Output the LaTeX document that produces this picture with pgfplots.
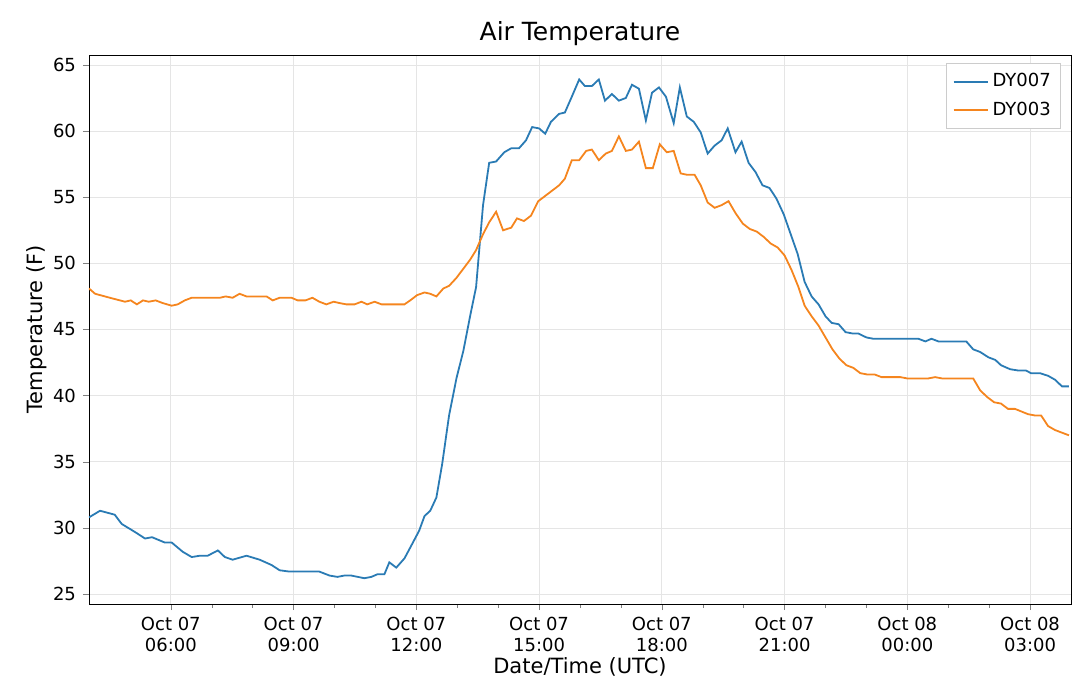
\documentclass[border=0pt]{standalone}
\usepackage{pgfplots}
\pgfplotsset{compat=1.18}
\usepackage{fontspec}
\setmainfont{DejaVu Sans}
\definecolor{c1}{HTML}{2A7BB4}
\definecolor{c2}{HTML}{F5851E}
\begin{document}
\begin{tikzpicture}
\path[use as bounding box] (-44.5pt,-47pt) rectangle (495.5pt,302pt);
\begin{axis}[
  scale only axis, width=491pt, height=274.5pt,
  xmin=4, xmax=28, ymin=24.25, ymax=65.75,
  xtick={6,9,12,15,18,21,24,27},
  xticklabels={Oct 07\\06:00,Oct 07\\09:00,Oct 07\\12:00,Oct 07\\15:00,Oct 07\\18:00,Oct 07\\21:00,Oct 08\\00:00,Oct 08\\03:00},
  xticklabel style={align=center},
  minor x tick num=2,
  ytick={25,30,...,65},
  tick label style={font=\fontsize{9}{10.5}\selectfont},
  /pgf/number format/assume math mode=true,
  grid=major, major grid style={gray!20, line width=0.4pt},
  tick align=outside, tick pos=left,
  major tick length=3pt, minor tick length=1.8pt,
  xlabel={Date/Time (UTC)}, ylabel={Temperature (F)},
  label style={font=\fontsize{10.5}{12}\selectfont},
  xlabel style={yshift=4pt}, ylabel style={yshift=-4pt},
  title={Air Temperature}, title style={font=\fontsize{12.5}{14}\selectfont, yshift=-5pt},
  legend style={at={(0.99,0.985)}, anchor=north east, font=\fontsize{9}{10.5}\selectfont, draw=gray!40, row sep=2pt, inner sep=3pt},
  legend cell align=left,
  legend image post style={line width=0.9pt},
]
\addplot[c1, line width=0.9pt] coordinates {
(4.00,30.8)(4.27,31.3)(4.63,31.0)(4.80,30.3)(5.12,29.7)(5.37,29.2)(5.54,29.3)(5.85,28.9)(6.02,28.9)(6.29,28.2)(6.51,27.8)(6.71,27.9)(6.90,27.9)(7.15,28.3)(7.32,27.8)(7.51,27.6)(7.85,27.9)(8.17,27.6)(8.46,27.2)(8.66,26.8)(8.90,26.7)(9.63,26.7)(9.88,26.4)(10.07,26.3)(10.24,26.4)(10.41,26.4)(10.73,26.2)(10.90,26.3)(11.05,26.5)(11.22,26.5)(11.34,27.4)(11.51,27.0)(11.71,27.7)(11.90,28.8)(12.07,29.8)(12.20,30.9)(12.34,31.3)(12.49,32.3)(12.63,34.8)(12.80,38.5)(12.98,41.3)(13.15,43.4)(13.32,46.1)(13.46,48.2)(13.63,54.4)(13.78,57.6)(13.95,57.7)(14.15,58.4)(14.32,58.7)(14.51,58.7)(14.68,59.3)(14.83,60.3)(15.00,60.2)(15.15,59.8)(15.29,60.7)(15.49,61.3)(15.63,61.4)(15.80,62.6)(15.98,63.9)(16.12,63.4)(16.29,63.4)(16.46,63.9)(16.61,62.3)(16.78,62.8)(16.95,62.3)(17.12,62.5)(17.27,63.5)(17.44,63.2)(17.61,60.8)(17.76,62.9)(17.93,63.3)(18.10,62.6)(18.29,60.6)(18.44,63.3)(18.61,61.1)(18.78,60.7)(18.95,59.9)(19.12,58.3)(19.29,58.9)(19.46,59.3)(19.61,60.2)(19.80,58.4)(19.95,59.2)(20.12,57.6)(20.29,56.9)(20.46,55.9)(20.63,55.7)(20.80,54.9)(20.98,53.7)(21.15,52.2)(21.32,50.7)(21.49,48.6)(21.66,47.5)(21.83,46.9)(22.00,46.0)(22.15,45.5)(22.32,45.4)(22.49,44.8)(22.66,44.7)(22.80,44.7)(23.00,44.4)(23.17,44.3)(24.27,44.3)(24.44,44.1)(24.59,44.3)(24.76,44.1)(25.44,44.1)(25.61,43.5)(25.78,43.3)(25.98,42.9)(26.15,42.7)(26.29,42.3)(26.51,42.0)(26.71,41.9)(26.90,41.9)(27.02,41.7)(27.24,41.7)(27.44,41.5)(27.61,41.2)(27.78,40.7)(27.95,40.7)
};
\addlegendentry{DY007}
\addplot[c2, line width=0.9pt] coordinates {
(4.00,48.1)(4.15,47.7)(4.51,47.4)(4.88,47.1)(5.02,47.2)(5.17,46.9)(5.32,47.2)(5.46,47.1)(5.63,47.2)(5.80,47.0)(6.02,46.8)(6.17,46.9)(6.34,47.2)(6.51,47.4)(7.20,47.4)(7.34,47.5)(7.51,47.4)(7.68,47.7)(7.85,47.5)(8.34,47.5)(8.49,47.2)(8.66,47.4)(8.95,47.4)(9.10,47.2)(9.29,47.2)(9.46,47.4)(9.63,47.1)(9.80,46.9)(9.98,47.1)(10.12,47.0)(10.29,46.9)(10.49,46.9)(10.66,47.1)(10.80,46.9)(10.98,47.1)(11.15,46.9)(11.71,46.9)(11.85,47.2)(12.02,47.6)(12.20,47.8)(12.34,47.7)(12.49,47.5)(12.66,48.1)(12.80,48.3)(12.98,48.9)(13.15,49.6)(13.32,50.3)(13.46,51.0)(13.63,52.2)(13.78,53.1)(13.95,53.9)(14.12,52.5)(14.32,52.7)(14.46,53.4)(14.63,53.2)(14.80,53.6)(14.98,54.7)(15.15,55.1)(15.32,55.5)(15.49,55.9)(15.63,56.4)(15.80,57.8)(15.98,57.8)(16.15,58.5)(16.29,58.6)(16.46,57.8)(16.63,58.3)(16.78,58.5)(16.95,59.6)(17.12,58.5)(17.27,58.6)(17.44,59.2)(17.61,57.2)(17.78,57.2)(17.95,59.0)(18.12,58.4)(18.29,58.5)(18.46,56.8)(18.61,56.7)(18.80,56.7)(18.95,55.9)(19.12,54.6)(19.29,54.2)(19.46,54.4)(19.63,54.7)(19.80,53.8)(19.98,53.0)(20.15,52.6)(20.32,52.4)(20.49,52.0)(20.66,51.5)(20.83,51.2)(21.00,50.6)(21.17,49.5)(21.34,48.2)(21.49,46.8)(21.66,46.0)(21.83,45.3)(22.00,44.4)(22.17,43.5)(22.34,42.8)(22.51,42.3)(22.68,42.1)(22.85,41.7)(23.02,41.6)(23.20,41.6)(23.37,41.4)(23.83,41.4)(24.00,41.3)(24.51,41.3)(24.68,41.4)(24.85,41.3)(25.61,41.3)(25.78,40.4)(25.95,39.9)(26.12,39.5)(26.29,39.4)(26.46,39.0)(26.63,39.0)(26.95,38.6)(27.12,38.5)(27.27,38.5)(27.44,37.7)(27.61,37.4)(27.78,37.2)(27.95,37.0)
};
\addlegendentry{DY003}
\end{axis}
\end{tikzpicture}
\end{document}
